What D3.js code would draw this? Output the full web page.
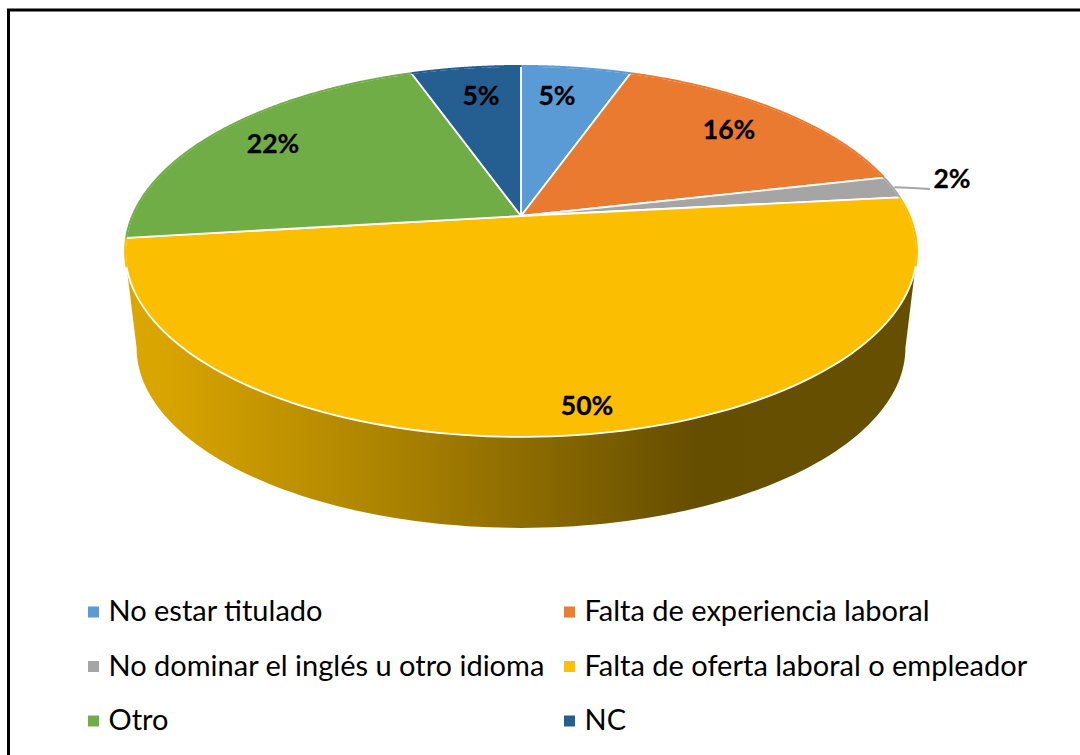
<!DOCTYPE html>
<html><head><meta charset="utf-8">
<script src="https://cdn.jsdelivr.net/npm/d3@7"></script>
<style>html,body{margin:0;padding:0;background:#fff}svg{display:block}text{font-family:Lato,sans-serif;fill:#000}</style>
</head><body><svg id="c" width="1080" height="755"></svg>
<script>
const categories=["No estar titulado","Falta de experiencia laboral","No dominar el inglés u otro idioma","Falta de oferta laboral o empleador","Otro","NC"];
const values=[5.4,16,1.9,49.8,21.5,5.4];
const labels=["5%","16%","2%","50%","22%","5%"];
const colors=["#5b9bd5","#ed7d31","#a5a5a5","#ffc000","#70ad47","#255e91"];
const fillColors=["#5b9bd5","#eb7a31","#a5a5a5","#fbbe00","#70ad47","#255e91"];

const svg=d3.select("#c");
const k=0.191,R=388.6,S=178.7,cx=521,cy=216;
// perspective projection of the pie disc: angle clockwise from 12 o'clock
const project=(a,r=1,scale=1,dy=0)=>{
  const u=Math.sin(a)*r,v=-Math.cos(a)*r,w=1-k*v;
  return [cx+scale*R*u/w,cy+dy+scale*S*v/w];
};
const pie=d3.pie().sort(null).value(d=>d)(values);
const line=d3.line();
const arcPts=(a0,a1,scale,dy)=>d3.range(0,121).map(i=>project(a0+(a1-a0)*i/120,1,scale,dy));

const defs=svg.append("defs");
const g=defs.append("linearGradient").attr("id","wall").attr("gradientUnits","userSpaceOnUse")
  .attr("x1",124).attr("x2",917).attr("y1",0).attr("y2",0);
[[0,"#dca700"],[0.05,"#d8a400"],[0.35,"#a98100"],[0.72,"#664e00"],[1,"#665000"]]
  .forEach(s=>g.append("stop").attr("offset",s[0]).attr("stop-color",s[1]));

svg.append("path").attr("d",`M8.5 755V10H1080`).attr("fill","none").attr("stroke","#000").attr("stroke-width",3);

// side wall (front of the disc)
const tanA=Math.acos(-k),wallOver=0.09; // angle of horizontal extreme
const wallScale=0.971,wallDy=97.4;
const wallTop=arcPts(tanA+wallOver,2*Math.PI-tanA-wallOver,1,0);
const wallBot=arcPts(2*Math.PI-tanA,tanA,wallScale,wallDy);
svg.append("path").attr("d",line(wallTop.concat(wallBot))+"Z").attr("fill","url(#wall)");

// top face
svg.selectAll("path.slice").data(pie).join("path").attr("class","slice")
  .attr("d",d=>line([project(0,0)].concat(arcPts(d.startAngle,d.endAngle,1,0)))+"Z")
  .attr("fill",(d,i)=>fillColors[i]).attr("stroke","#fff").attr("stroke-width",1.8).attr("stroke-linejoin","round");
// hide outer white stroke on the upper rim
svg.selectAll("path.rim").data(pie).join("path").attr("class","rim")
  .attr("d",d=>{
    const pts=d3.range(0,241).map(i=>{
      const a=d.startAngle+(d.endAngle-d.startAngle)*i/240;
      return (a<tanA+wallOver||a>2*Math.PI-tanA-wallOver)?project(a):null;
    });
    return d3.line().defined(p=>p)(pts);
  }).attr("fill","none").attr("stroke",(d,i)=>fillColors[i]).attr("stroke-width",2);

// leader line
const mid=pie[2];
const lp=project((mid.startAngle+mid.endAngle)/2,1.005);
svg.append("path").attr("d",line([lp,[lp[0]+14,lp[1]+0.5],[930,189]])).attr("fill","none").attr("stroke","#a5a5a5").attr("stroke-width",2);

// data labels
const labelPos=[[557,105],[729,139],[952,188],[587,415],[273,153],[481,105]];
svg.selectAll("text.lab").data(labels).join("text").attr("class","lab")
  .attr("x",(d,i)=>labelPos[i][0]).attr("y",(d,i)=>labelPos[i][1])
  .attr("text-anchor","middle").attr("font-size",26.5).attr("font-weight",700).attr("stroke","#000").attr("stroke-width",0.3).text(d=>d);

// legend
const col=d3.scaleOrdinal().domain([0,1]).range([88,564]);
const row=d3.scalePoint().domain([0,1,2]).range([612,721]);
const leg=svg.selectAll("g.leg").data(categories).join("g").attr("class","leg")
  .attr("transform",(d,i)=>`translate(${col(i%2)},${row(Math.floor(i/2))})`);
leg.append("rect").attr("y",-5.5).attr("width",11).attr("height",11).attr("fill",(d,i)=>colors[i]);
leg.append("text").attr("x",20.5).attr("y",9).attr("font-size",29).text(d=>d);
</script></body></html>
